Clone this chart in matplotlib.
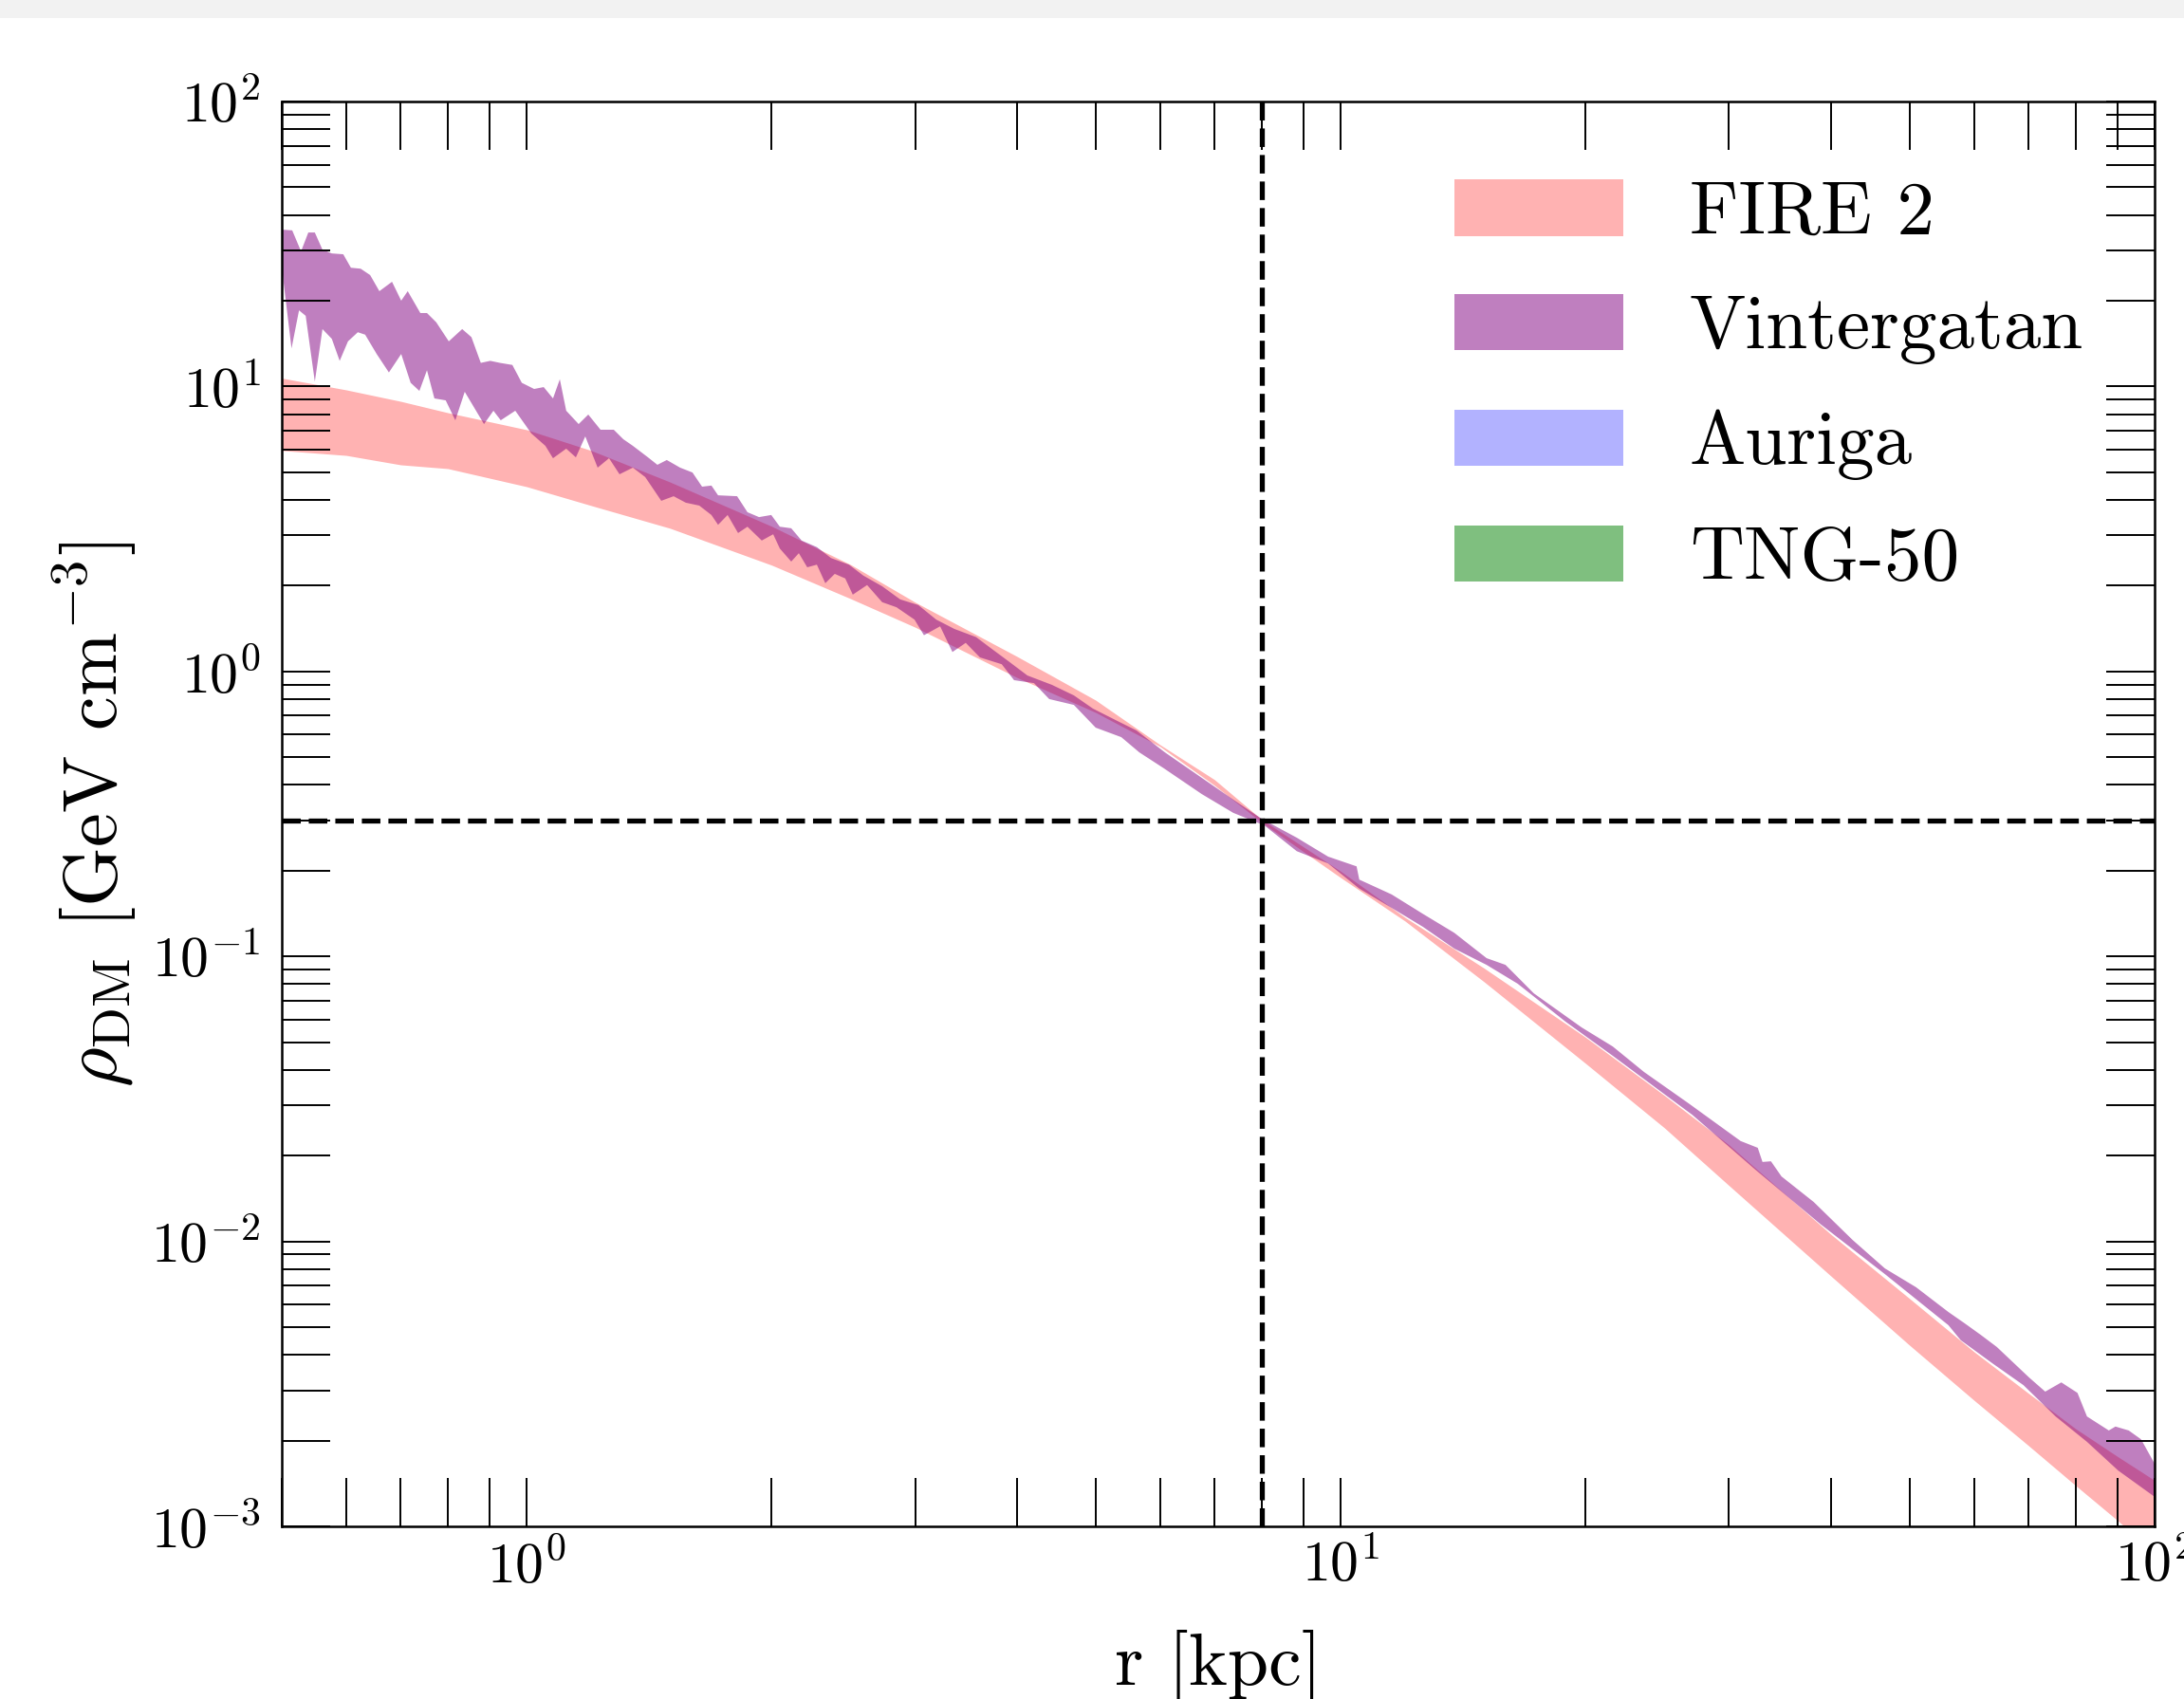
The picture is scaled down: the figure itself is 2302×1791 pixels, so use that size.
import numpy as np
import matplotlib.pyplot as plt
from matplotlib.patches import Patch, Rectangle

plt.rcParams['font.family'] = 'serif'
plt.rcParams['font.serif'] = ['cmr10']
plt.rcParams['mathtext.fontset'] = 'cm'
plt.rcParams['axes.formatter.use_mathtext'] = True

# FIRE 2 band (r in kpc, rho in GeV/cm^3)
fire_r = [0.5, 0.6, 0.7, 0.8, 1.0, 1.2, 1.5, 2, 2.5, 3, 4, 5, 6, 7, 8,
          10, 12, 15, 20, 25, 30, 40, 50, 60, 70, 80, 90, 100]
fire_hi = [10.7, 9.73, 8.87, 8.09, 7.05, 5.96, 4.62, 3.23, 2.37, 1.75, 1.13,
           0.793, 0.553, 0.417, 0.302, 0.199, 0.137, 0.091, 0.052, 0.0325,
           0.0218, 0.0106, 0.0063, 0.0041, 0.00293, 0.0022, 0.00176, 0.00145]
fire_lo = [5.96, 5.73, 5.31, 5.15, 4.45, 3.82, 3.18, 2.36, 1.80, 1.43, 0.953,
           0.718, 0.545, 0.398, 0.295, 0.189, 0.133, 0.0815, 0.0421, 0.0250,
           0.0157, 0.00757, 0.00432, 0.00277, 0.00192, 0.00139, 0.00105, 0.000807]

# Vintergatan band, upper edge
vint_hi_r = [0.501, 0.515, 0.528, 0.539, 0.549, 0.561, 0.576, 0.595, 0.608, 0.625,
             0.642, 0.659, 0.683, 0.701, 0.714, 0.740, 0.754, 0.774, 0.802, 0.833,
             0.855, 0.878, 0.902, 0.927, 0.960, 0.986, 1.021, 1.049, 1.077, 1.098,
             1.118, 1.158, 1.190, 1.232, 1.279, 1.314, 1.350, 1.409, 1.447, 1.486,
             1.543, 1.598, 1.642, 1.686, 1.718, 1.813, 1.867, 1.929, 1.997, 2.046,
             2.113, 2.176, 2.272, 2.365, 2.488, 2.591, 2.733, 2.876, 3.027, 3.185,
             3.352, 3.565, 3.712, 3.917, 4.121, 4.419, 4.701, 4.960, 5.318, 5.611,
             6.082, 6.753, 7.379, 7.997, 8.832, 9.649, 10.46, 10.54, 11.55, 12.62,
             13.79, 15.11, 15.94, 16.50, 17.27, 19.76, 21.59, 23.59, 26.76, 31.00,
             32.54, 32.98, 33.78, 34.80, 38.12, 42.55, 46.62, 50.94, 55.81, 58.42,
             61.14, 64.00, 70.11, 73.39, 76.81, 80.40, 82.59, 87.85, 89.52, 92.94,
             96.25, 100.0]
vint_hi = [35.5, 35.3, 29.8, 34.7, 34.7, 30.2, 29.3, 29.1, 26.1, 25.9,
           24.6, 21.6, 23.3, 20.0, 21.6, 18.1, 18.1, 16.8, 14.4, 15.9,
           14.9, 12.1, 12.3, 12.1, 11.9, 10.3, 9.80, 9.95, 9.08, 10.6,
           8.22, 7.38, 7.97, 7.05, 7.05, 6.53, 6.19, 5.64, 5.31, 5.52,
           5.19, 4.99, 4.45, 4.49, 4.15, 4.12, 3.62, 3.48, 3.54, 3.22,
           3.18, 2.88, 2.73, 2.50, 2.37, 2.17, 1.99, 1.79, 1.71, 1.52,
           1.41, 1.32, 1.21, 1.08, 0.968, 0.897, 0.824, 0.741, 0.670, 0.621,
           0.520, 0.423, 0.355, 0.304, 0.261, 0.224, 0.207, 0.186, 0.165, 0.141,
           0.121, 0.0986, 0.0934, 0.0846, 0.0742, 0.0564, 0.0483, 0.0393, 0.0305, 0.0225,
           0.0213, 0.0190, 0.0191, 0.0169, 0.01375, 0.01012, 0.00804, 0.00690, 0.00565, 0.00516,
           0.00470, 0.00426, 0.00333, 0.00297, 0.00320, 0.00294, 0.00243, 0.00217, 0.00224, 0.00217,
           0.00202, 0.00166]

# Vintergatan band, lower edge
vint_lo_r = [0.501, 0.514, 0.525, 0.535, 0.549, 0.561, 0.576, 0.589, 0.603, 0.620,
             0.633, 0.654, 0.677, 0.701, 0.720, 0.738, 0.754, 0.770, 0.795, 0.817,
             0.839, 0.886, 0.910, 0.929, 0.968, 1.013, 1.054, 1.077, 1.118, 1.149,
             1.180, 1.222, 1.262, 1.300, 1.350, 1.398, 1.463, 1.515, 1.568, 1.629,
             1.686, 1.718, 1.765, 1.818, 1.867, 1.944, 2.008, 2.046, 2.113, 2.159,
             2.211, 2.272, 2.327, 2.390, 2.462, 2.515, 2.619, 2.733, 2.846, 2.995,
             3.076, 3.220, 3.334, 3.462, 3.604, 3.833, 3.969, 4.199, 4.384, 4.701,
             5.000, 5.376, 5.657, 6.065, 6.753, 7.379, 8.061, 8.832, 9.649, 10.54,
             11.55, 12.62, 13.79, 15.11, 16.50, 18.88, 21.59, 24.69, 27.04, 32.36,
             38.85, 46.62, 55.81, 57.79, 63.15, 69.00, 75.58, 82.59, 90.21, 100.0]
vint_lo = [25.0, 13.6, 18.5, 17.7, 10.4, 15.9, 14.7, 12.3, 14.4, 15.5,
           15.2, 13.0, 11.2, 13.0, 10.3, 9.65, 11.4, 9.08, 8.94, 7.61,
           9.58, 7.38, 8.22, 7.61, 8.22, 6.84, 6.19, 5.60, 6.05, 5.64,
           6.68, 5.19, 5.60, 4.92, 5.19, 4.81, 3.97, 4.12, 3.91, 3.82,
           3.54, 3.27, 3.54, 3.06, 3.22, 2.88, 3.03, 2.70, 2.43, 2.60,
           2.32, 2.37, 2.04, 2.20, 2.12, 1.86, 2.01, 1.75, 1.68, 1.52,
           1.34, 1.44, 1.17, 1.26, 1.12, 1.06, 0.932, 0.910, 0.800, 0.763,
           0.635, 0.588, 0.520, 0.457, 0.371, 0.319, 0.288, 0.234, 0.212, 0.173,
           0.148, 0.127, 0.1065, 0.0934, 0.0802, 0.0591, 0.0448, 0.0337, 0.0278, 0.0178,
           0.0115, 0.00768, 0.00508, 0.00450, 0.00374, 0.00313, 0.00243, 0.00198, 0.00157, 0.00127]

r_sun = 8.0
rho_local = 0.3

labels = ['FIRE 2', 'Vintergatan', 'Auriga', 'TNG-50']
colors = ['red', 'purple', 'blue', 'green']
alphas = [0.3, 0.5, 0.3, 0.5]

fig = plt.figure(figsize=(23.02, 17.91), dpi=100)
fig.add_artist(Rectangle((0, 1 - 19 / 1791), 1, 19 / 1791, transform=fig.transFigure,
                         color='#f2f2f2', lw=0))
ax = fig.add_axes([297 / 2302, 1 - 1609 / 1791, 1974 / 2302, 1502 / 1791])

ax.fill_between(fire_r, fire_lo, fire_hi, color=colors[0], alpha=alphas[0], lw=0)
ax.fill(np.concatenate([vint_hi_r, vint_lo_r[::-1]]),
        np.concatenate([vint_hi, vint_lo[::-1]]),
        color=colors[1], alpha=alphas[1], lw=0)

ax.axhline(rho_local, color='k', ls='--', lw=3.8)
ax.axvline(r_sun, color='k', ls='--', lw=3.8)

ax.set_xscale('log')
ax.set_yscale('log')
ax.set_xlim(0.5, 100)
ax.set_ylim(1e-3, 1e2)

ax.tick_params(which='both', direction='in', top=True, right=True,
               length=36.7, width=1.4, labelsize=43)
ax.tick_params(axis='x', which='both', pad=10)
ax.tick_params(axis='y', which='both', pad=16)
for sp in ax.spines.values():
    sp.set_linewidth(1.8)

ax.set_xlabel('r [kpc]', fontsize=56, labelpad=27)
ax.set_ylabel(r'$\rho_{\mathrm{DM}}$ [GeV cm$^{-3}$]', fontsize=58, labelpad=9)

handles = [Patch(facecolor=c, alpha=a, lw=0) for c, a in zip(colors, alphas)]
ax.legend(handles, labels, loc='upper left', bbox_to_anchor=(1533 / 2302, 1 - 189 / 1791),
          bbox_transform=fig.transFigure, frameon=False, fontsize=57,
          handlelength=2.25, handleheight=0.78, handletextpad=0.88,
          labelspacing=0.6, borderpad=0, borderaxespad=0)

fig.savefig('out.png', dpi=100)
